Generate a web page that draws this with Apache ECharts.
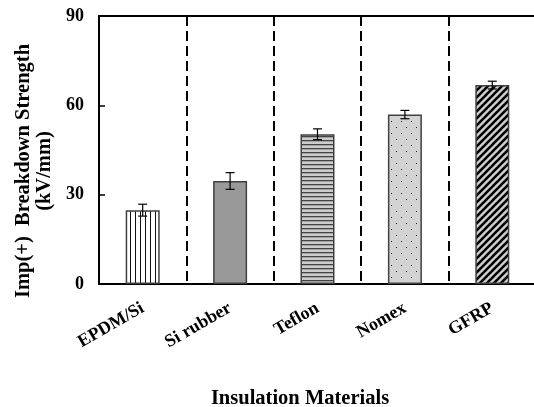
<!DOCTYPE html>
<html><head><meta charset="utf-8">
<script src="https://cdn.jsdelivr.net/npm/echarts@6/dist/echarts.min.js"></script>
<style>html,body{margin:0;padding:0;background:#fff}#c{width:534px;height:407px}</style>
</head><body><div id="c"></div>
<script>
var categories = ['EPDM/Si', 'Si rubber', 'Teflon', 'Nomex', 'GFRP'];
var strength = [24.8, 34.6, 50.3, 56.9, 66.8];
var errors = [2.0, 2.8, 1.8, 1.4, 1.3];
var yTicks = [0, 30, 60, 90];

function tile(w, h, draw) {
  var c = document.createElement('canvas');
  c.width = w; c.height = h;
  var g = c.getContext('2d');
  draw(g, w, h);
  return { image: c, repeat: 'repeat' };
}
var patVert = tile(5, 5, function (g, w, h) {
  g.fillStyle = '#fff'; g.fillRect(0, 0, w, h);
  g.fillStyle = '#111'; g.fillRect(0, 0, 1, h);
});
var patGray = '#999999';
var patHoriz = tile(4, 4, function (g, w, h) {
  g.fillStyle = '#cccccc'; g.fillRect(0, 0, w, h);
  g.fillStyle = '#444'; g.fillRect(0, 0, w, 1.3);
});
var patDots = tile(10, 12, function (g, w, h) {
  g.fillStyle = '#d3d3d3'; g.fillRect(0, 0, w, h);
  g.fillStyle = '#222'; g.fillRect(1, 1, 1, 1); g.fillRect(6, 7, 1, 1);
});
var patDiag = tile(7, 7, function (g, w, h) {
  g.fillStyle = '#d0d0d0'; g.fillRect(0, 0, w, h);
  g.strokeStyle = '#000'; g.lineWidth = 2.6;
  for (var k = -1; k <= 1; k++) {
    g.beginPath(); g.moveTo(k * 7 - 1, 8); g.lineTo(k * 7 + 8, -1); g.stroke();
  }
});
var fills = [patVert, patGray, patHoriz, patDots, patDiag];

var font = 'Liberation Serif';
var chart = echarts.init(document.getElementById('c'), null, { renderer: 'canvas' });
chart.setOption({
  animation: false,
  backgroundColor: '#fff',
  grid: { left: 99, top: 16, width: 437, height: 268, outerBoundsMode: 'none', containLabel: false },
  title: {
    text: 'Insulation Materials', left: 295, top: 383, textAlign: 'center',
    textStyle: { fontFamily: font, fontWeight: 'bold', fontSize: 20.5, color: '#000' }
  },
  xAxis: [{
    type: 'category', data: categories, boundaryGap: true,
    axisLine: { lineStyle: { color: '#000', width: 2 } },
    axisTick: { inside: true, length: 5, lineStyle: { color: '#000', width: 2 } },
    splitLine: { show: true, lineStyle: { color: '#000', width: 2, type: [10, 5] } },
    axisLabel: { rotate: 30, margin: 23, interval: 0, fontFamily: font, fontWeight: 'bold', fontSize: 18, color: '#000' }
  }, {
    type: 'category', data: categories, position: 'top',
    axisLine: { lineStyle: { color: '#000', width: 2 } },
    axisTick: { show: false }, axisLabel: { show: false }
  }],
  yAxis: {
    type: 'value', min: yTicks[0], max: yTicks[yTicks.length - 1], interval: 30,
    name: 'Imp(+)  Breakdown Strength\n(kV/mm)', nameLocation: 'middle', nameRotate: 90, nameGap: 38,
    nameTextStyle: { fontFamily: font, fontWeight: 'bold', fontSize: 20.5, color: '#000', lineHeight: 21, padding: [0, 42, 0, 0] },
    axisLine: { show: true, lineStyle: { color: '#000', width: 2 } },
    axisTick: { show: true, inside: true, length: 6, lineStyle: { color: '#000', width: 1.5 } },
    splitLine: { show: false },
    axisLabel: { margin: 15, fontFamily: font, fontWeight: 'bold', fontSize: 18, color: '#000' }
  },
  series: [{
    type: 'bar', barWidth: 34,
    data: strength.map(function (v, i) {
      return { value: v, itemStyle: { color: fills[i], borderColor: '#404040', borderWidth: 1.5 } };
    }),
    z: 3
  }, {
    type: 'custom', z: 5,
    data: strength.map(function (v, i) { return [i, v, errors[i]]; }),
    renderItem: function (params, api) {
      var i = api.value(0), v = api.value(1), e = api.value(2);
      var top = api.coord([i, v + e]);
      var bot = api.coord([i, v - e]);
      var hw = 4.5;
      var st = { stroke: '#000', lineWidth: 1.2 };
      return { type: 'group', children: [
        { type: 'line', shape: { x1: top[0], y1: top[1], x2: bot[0], y2: bot[1] }, style: st },
        { type: 'line', shape: { x1: top[0] - hw, y1: top[1], x2: top[0] + hw, y2: top[1] }, style: st },
        { type: 'line', shape: { x1: bot[0] - hw, y1: bot[1], x2: bot[0] + hw, y2: bot[1] }, style: st }
      ] };
    }
  }]
});
</script></body></html>
